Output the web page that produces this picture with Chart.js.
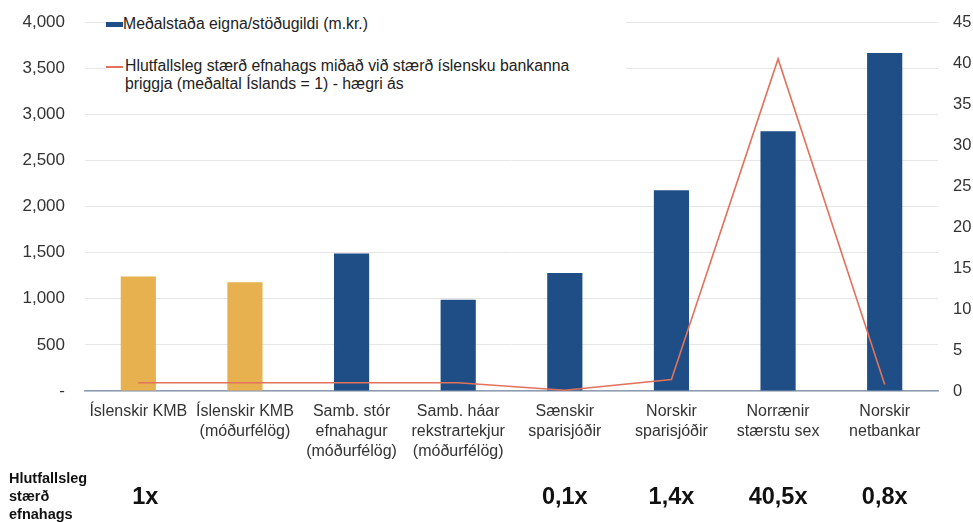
<!DOCTYPE html>
<html>
<head>
<meta charset="utf-8">
<script src="https://cdn.jsdelivr.net/npm/chart.js@4"></script>
<style>
  body { margin: 0; background: #fff; font-family: "Liberation Sans", Arial, sans-serif; }
  #wrap { position: relative; width: 973px; height: 522px; }
  .legend { position: absolute; left: 106px; background: #fff; color: #222; font-size: 15.8px; line-height: 18px; }
  .legend .sw { display: inline-block; width: 17px; vertical-align: middle; }
  #leg1 { top: 15px; width: 520px; height: 22px; }
  #leg2 { top: 57px; width: 520px; height: 38px; }
  #leg2 .txt { position: absolute; left: 19px; top: 0; white-space: nowrap; }
</style>
</head>
<body>
<div id="wrap">
  <canvas id="c" width="973" height="522"></canvas>
  <div class="legend" id="leg1"><span class="sw" style="height:5px;background:#1f4e87;"></span>Meðalstaða eigna/stöðugildi (m.kr.)</div>
  <div class="legend" id="leg2"><span class="sw" style="height:2px;background:#e2725b;position:absolute;top:9px;left:0;"></span><span class="txt">Hlutfallsleg stærð efnahags miðað við stærð íslensku bankanna<br>þriggja (meðaltal Íslands = 1) - hægri ás</span></div>
</div>
<script>
const categories = [
  'Íslenskir KMB',
  ['Íslenskir KMB', '(móðurfélög)'],
  ['Samb. stór', 'efnahagur', '(móðurfélög)'],
  ['Samb. háar', 'rekstrartekjur', '(móðurfélög)'],
  ['Sænskir', 'sparisjóðir'],
  ['Norskir', 'sparisjóðir'],
  ['Norrænir', 'stærstu sex'],
  ['Norskir', 'netbankar']
];
const assetsPerFte = [1240, 1180, 1490, 990, 1280, 2175, 2815, 3665];
const relativeSize = [1, 1, 1, 1, 0.1, 1.4, 40.5, 0.8];
const bottomLabels = ['1x', '', '', '', '0,1x', '1,4x', '40,5x', '0,8x'];
const barColors = ['#e8b150', '#e8b150', '#1f4e87', '#1f4e87', '#1f4e87', '#1f4e87', '#1f4e87', '#1f4e87'];

const FONT = '"Liberation Sans", Arial, sans-serif';

// row of relative sizes under the x axis, aligned to the category centres
const bottomRow = {
  id: 'bottomRow',
  afterDraw(chart) {
    const ctx = chart.ctx;
    const x = chart.scales.x;
    ctx.save();
    ctx.fillStyle = '#111';
    ctx.font = 'bold 14.5px ' + FONT;
    ctx.textAlign = 'left';
    ctx.textBaseline = 'middle';
    ['Hlutfallsleg', 'stærð', 'efnahags'].forEach((t, i) => ctx.fillText(t, 9, 479 + i * 18));
    ctx.font = 'bold 23.5px ' + FONT;
    ctx.textAlign = 'center';
    bottomLabels.forEach((t, i) => {
      if (t) ctx.fillText(t, x.getPixelForValue(i) + (i === 0 ? 7 : 0), 498);
    });
    ctx.restore();
  }
};

new Chart(document.getElementById('c'), {
  data: {
    labels: categories,
    datasets: [
      {
        type: 'line',
        label: 'Hlutfallsleg stærð efnahags',
        data: relativeSize,
        yAxisID: 'y2',
        borderColor: '#e2725b',
        borderWidth: 1.6,
        pointRadius: 0,
        tension: 0,
        order: 0
      },
      {
        type: 'bar',
        label: 'Meðalstaða eigna/stöðugildi (m.kr.)',
        data: assetsPerFte,
        yAxisID: 'y',
        backgroundColor: barColors,
        categoryPercentage: 1,
        barPercentage: 0.33,
        order: 1
      }
    ]
  },
  options: {
    responsive: false,
    animation: false,
    layout: { padding: { top: 22, bottom: 57, left: 0, right: 0 } },
    plugins: { legend: { display: false }, tooltip: { enabled: false } },
    scales: {
      x: {
        grid: { display: false },
        border: { color: '#8d9db3', width: 1.5 },
        ticks: { color: '#333', font: { family: FONT, size: 16, lineHeight: 1.25 }, maxRotation: 0, autoSkip: false, padding: 3 }
      },
      y: {
        position: 'left',
        min: 0,
        max: 4000,
        // fixed width so the plot starts where the reference does; tick padding must not push the top down
        afterFit(s) { s.width = 85; s.paddingTop = 0; s.paddingBottom = 0; },
        grid: { color: '#e6e6e6', drawTicks: false },
        border: { display: false },
        ticks: {
          stepSize: 500,
          padding: 20,
          color: '#333',
          font: { family: FONT, size: 17 },
          callback: v => v === 0 ? '-' : v.toLocaleString('en-US')
        }
      },
      y2: {
        position: 'right',
        min: 0,
        max: 45,
        afterFit(s) { s.width = 35; s.paddingTop = 0; s.paddingBottom = 0; },
        grid: { display: false },
        border: { display: false },
        ticks: { stepSize: 5, padding: 7, color: '#333', font: { family: FONT, size: 16.5 } }
      }
    }
  },
  plugins: [bottomRow]
});
</script>
</body>
</html>
